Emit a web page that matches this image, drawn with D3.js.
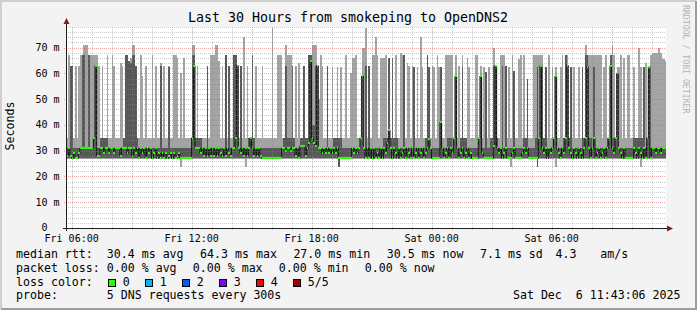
<!DOCTYPE html>
<html>
<head>
<meta charset="utf-8">
<script src="https://cdn.jsdelivr.net/npm/d3@7"></script>
<style>
  body { margin: 0; background: #f3f3f3; }
  svg text { font-family: "DejaVu Sans Mono", monospace; white-space: pre; }
</style>
</head>
<body>
<svg id="chart" width="697" height="310"></svg>
<script>
const width = 697;
const height = 310;

// 5 DNS requests every 300s, sorted per step: min, 2nd, median, 4th, max (ms)
const medRtt = [
  28,31,28,27,29,27,27,29,31,31,31,31,31,31,31,31,35,63,28,28,
  31,31,29,31,31,29,31,31,29,31,31,31,28,31,31,31,29,31,31,28,
  31,29,31,27,31,29,31,27,31,29,31,27,29,31,27,29,27,29,27,29,
  27,28,29,27,29,27,28,29,27,27,27,27,27,27,27,35,63,31,31,31,
  29,31,28,31,28,31,28,31,28,31,28,31,29,28,31,28,31,29,28,31,
  31,35,63,31,29,31,28,31,28,31,35,31,28,31,28,31,28,27,27,27,
  27,27,27,27,27,27,27,27,27,31,31,30,31,31,30,31,31,28,31,27,
  32,32,32,28,31,33,64.8,35,33,32,63,31,31,29,31,29,31,29,31,29,
  31,29,31,27,27,27,27,27,27,27,27,31,29,31,29,31,35,59,31,27,
  31,27,31,27,31,27,29,27,31,27,31,29,33,38,31,27,31,29,27,31,
  27,29,31,27,31,29,27,31,27,29,31,27,29,31,27,29,31,34.5,31,27,
  27,27,27,27,41,31,27,29,31,27,31,29,35,59,31,27,29,31,27,29,
  31,27,29,27,27,27,27,35,59,29,27,27,27,27,27,27,32,63,31,29,
  31,27,29,31,27,27,27,29,31,27,27,27,27,29,31,29,31,27,27,27,
  27,27,27,35,63,31,29,31,27,31,29,31,35,59,31,29,27,31,29,35,
  63,31,29,27,31,29,27,31,29,27,31,35,62.6,31,27,31,35,27,29,31,
  27,29,31,27,31,35,63,31,29,35,60,31,29,27,31,27,27,27,27,27,
  31,29,27,31,29,27,31,27,35,62.6,27,31,31,29,31,31,29,31,31,31
];
const maxRtt = [
  35,67,63,63,35,63,35,63,67,67,71,71,71,67,67,67,67,67,67,63,
  35,63,35,35,67,35,35,67,63,35,35,35,64,63,35,67,67,65,66,71,
  71,63,35,35,67,59,35,63,35,35,35,67,35,63,35,35,64,35,63,35,
  35,63,35,35,67,67,66,35,60,35,66,35,35,35,35,71,71,35,63,35,
  35,35,35,35,63,35,67,67,67,71,71,65,35,63,35,67,35,63,35,35,
  67,67,63,35,63,35,74,35,63,35,35,67,35,63,35,35,35,63,35,35,
  35,35,35,77.6,35,35,67,67,67,35,35,71,67,67,67,63,35,63,35,64,
  35,35,63,35,35,67,67,71,71,71,63,50,67,63,35,35,63,35,35,62.6,
  35,35,62.6,35,62.6,35,35,67,35,35,60,66,66,67,35,35,35,70,70,77.6,
  35,63,35,67,67,74,67,35,66,66,66,67,35,66,35,66,35,67,35,35,
  68,67,67,35,64,63,35,63,62.6,35,62.6,35,74,62.6,35,35,67,62.6,35,63,
  62.6,35,67,62.6,62.6,35,35,67,67,67,67,67,35,67,35,63,35,67,35,35,
  66,62.6,35,35,35,67,67,35,63,35,62.6,60.7,35,62.6,35,35,70,63,35,35,
  67,67,67,63,35,62.6,35,67,61,35,35,65.5,67,35,67,35,58,35,35,35,
  67,67,67,67,67,67,35,62.6,35,67,35,62.6,35,62.6,35,35,62.6,67,35,67,
  67,35,62.6,35,62.6,35,35,62.6,35,62.6,35,71,67,67,67,67,67,67,67,67,
  67,35,62.6,67,35,35,67,71,67,35,62.6,62.6,67,35,66,35,67,67,35,35,
  62.6,35,35,70,62.6,35,62.6,64,35,63,67,68,68,68,68,70,68,66,65.5,65
];
const p4Rtt = [
  31,31,63,63,31,31,31,31,31,67,67,31,31,67,31,31,35,63,31,31,
  35,35,35,35,35,31,31,31,31,31,31,31,31,31,35,67,67,65,64,67,
  67,63,35,31,31,31,31,31,31,31,31,31,31,31,31,31,63,31,31,31,
  31,62.6,31,31,31,31,31,31,31,31,31,31,31,31,31,67,67,35,35,35,
  35,31,31,31,63,31,31,31,31,31,31,31,31,31,31,67,31,63,31,31,
  67,67,63,31,63,31,31,31,31,35,35,67,35,31,31,31,31,31,31,31,
  31,31,31,31,31,31,31,31,31,31,35,63,35,35,35,63,35,31,31,31,
  35,35,63,35,35,67,67,40,40,63,63,31,31,31,31,31,63,31,31,31,
  35,35,35,35,35,31,31,31,31,31,31,31,31,31,31,31,35,59,31,63,
  31,63,31,31,31,31,31,31,31,31,35,35,35,66,35,66,35,35,35,31,
  31,31,67,31,31,31,31,31,62.6,31,31,31,31,31,31,35,67,62.6,31,31,
  31,31,31,31,62.6,31,31,31,35,35,35,31,35,59,31,31,35,62.6,35,35,
  31,31,31,31,31,31,31,35,59,31,31,60.7,31,31,35,35,63,63,35,31,
  31,63,31,63,31,31,31,31,61,31,31,31,31,31,35,35,58,31,31,31,
  31,35,62.6,35,63,62.6,35,62.6,31,31,31,31,35,59,31,31,31,31,35,67,
  63,35,62.6,31,31,31,31,31,31,62.6,35,67,67,35,35,31,62.6,31,31,31,
  31,31,31,31,35,35,67,35,35,35,60,31,31,31,31,31,31,31,31,31,
  35,35,35,35,35,35,62.6,31,35,62.6,31,31,31,31,31,31,31,31,31,31
];
const p2Rtt = [
  27,27,27,27,27,27,27,27,27,27,27,27,27,27,27,27,27,27,27,27,
  27,27,27,27,27,27,27,27,27,27,27,27,27,27,27,27,27,27,27,27,
  27,27,27,27,27,27,27,27,27,27,27,27,27,27,27,27,27,27,27,27,
  27,27,27,27,27,27,27,27,27,27,27,27,27,27,27,27,27,27,27,27,
  27,27,27,27,27,27,27,27,27,27,27,27,27,27,27,27,27,27,27,27,
  27,27,27,27,27,27,27,27,27,27,27,27,27,27,27,27,27,27,27,27,
  27,27,27,27,27,27,27,27,27,27,27,27,27,27,27,27,27,27,27,27,
  27,27,27,27,27,27,27,27,27,27,27,27,27,27,27,27,27,27,27,27,
  27,27,27,23.6,27,27,27,27,27,27,27,27,27,27,27,27,27,27,27,27,
  27,27,27,27,27,27,27,27,27,27,27,27,27,27,27,27,27,27,27,27,
  27,27,27,27,27,27,27,27,27,27,27,27,27,27,27,27,27,27,27,27,
  27,27,27,27,27,27,27,27,27,27,27,27,27,27,27,27,27,27,27,27,
  27,27,27,27,27,27,27,27,27,27,27,27,27,27,27,27,27,27,27,27,
  27,27,27,27,27,27,27,27,27,27,27,27,27,27,27,27,27,27,27,27,
  27,27,23.6,27,27,27,27,27,27,27,27,27,27,27,27,27,27,27,27,27,
  27,27,27,27,27,27,27,27,27,27,27,27,27,27,27,27,27,27,27,27,
  27,27,27,27,27,27,27,27,27,27,27,27,27,27,27,27,27,27,27,27,
  27,27,27,27,27,27,27,27,27,27,27,27,27,27,27,27,27,27,27,27
];
const minRtt = [
  26.7,26.7,26.7,26.7,26.7,26.7,26.7,26.7,26.7,26.7,26.7,26.7,26.7,26.7,26.7,26.7,26.7,26.7,26.7,26.7,
  26.7,26.7,26.7,26.7,26.7,26.7,26.7,26.7,26.7,26.7,26.7,26.7,26.7,26.7,26.7,26.7,26.7,26.7,26.7,26.7,
  26.7,26.7,26.7,26.7,26.7,26.7,26.7,26.7,26.7,26.7,26.7,26.7,26.7,26.7,26.7,26.7,26.7,26.7,26.7,26.7,
  26.7,26.7,26.7,26.7,26.7,26.7,26.7,26.7,23.5,26.7,26.7,26.7,26.7,26.7,26.7,26.7,26.7,26.7,26.7,26.7,
  26.7,26.7,26.7,26.7,26.7,26.7,26.7,26.7,26.7,26.7,26.7,26.7,26.7,26.7,26.7,26.7,26.7,26.7,26.7,26.7,
  26.7,26.7,26.7,26.7,26.7,26.7,26.7,23.5,26.7,26.7,26.7,26.7,26.7,26.7,26.7,26.7,26.7,26.7,26.7,26.7,
  26.7,26.7,26.7,26.7,26.7,26.7,26.7,26.7,26.7,26.7,26.7,26.7,26.7,26.7,26.7,26.7,26.7,26.7,26.7,26.7,
  26.7,26.7,26.7,26.7,26.7,26.7,26.7,26.7,26.7,26.7,26.7,26.7,26.7,26.7,26.7,26.7,26.7,26.7,26.7,26.7,
  26.7,26.7,26.7,23.5,26.7,26.7,26.7,26.7,26.7,26.7,26.7,26.7,26.7,26.7,26.7,26.7,26.7,26.7,26.7,26.7,
  26.7,26.7,26.7,26.7,26.7,26.7,26.7,26.7,26.7,26.7,26.7,26.7,26.7,26.7,26.7,26.7,26.7,26.7,26.7,26.7,
  26.7,26.7,26.7,26.7,26.7,26.7,26.7,26.7,26.7,26.7,26.7,26.7,26.7,26.7,26.7,26.7,26.7,26.7,26.7,26.7,
  26.7,26.7,26.7,26.7,26.7,26.7,26.7,26.7,26.7,26.7,26.7,26.7,26.7,26.7,26.7,26.7,26.7,26.7,26.7,26.7,
  26.7,26.7,26.7,26.7,26.7,26.7,26.7,26.7,26.7,26.7,26.7,26.7,26.7,26.7,26.7,26.7,26.7,26.7,26.7,26.7,
  26.7,26.7,26.7,26.7,26.7,26.7,23.5,26.7,26.7,26.7,26.7,26.7,26.7,26.7,26.7,26.7,26.7,26.7,26.7,26.7,
  26.7,26.7,23.5,26.7,26.7,26.7,26.7,26.7,26.7,26.7,26.7,26.7,26.7,23.5,26.7,26.7,26.7,26.7,26.7,26.7,
  26.7,26.7,26.7,26.7,26.7,26.7,26.7,26.7,26.7,26.7,26.7,26.7,26.7,26.7,26.7,26.7,26.7,26.7,26.7,26.7,
  26.7,26.7,26.7,26.7,26.7,26.7,26.7,26.7,26.7,26.7,26.7,26.7,26.7,26.7,26.7,26.7,26.7,26.7,26.7,26.7,
  26.7,26.7,26.7,26.7,23.5,26.7,26.7,26.7,26.7,26.7,26.7,26.7,26.7,26.7,26.7,26.7,26.7,26.7,26.7,26.7
];

const yTicks = [0, 10, 20, 30, 40, 50, 60, 70];
const lossLevels = ["0", "1", "2", "3", "4", "5/5"];
const lossColors = ["#26ff00", "#00b8ff", "#0059ff", "#7e00ff", "#ff0000", "#a10000"];
const statsRtt = ["30.4 ms avg", "64.3 ms max", "27.0 ms min", "30.5 ms now", "7.1 ms sd"];
const statsLoss = ["0.00 % avg", "0.00 % max", "0.00 % min", "0.00 % now"];

const tStart = new Date(2025, 11, 5, 5, 43, 6);
const tEnd = new Date(2025, 11, 6, 11, 43, 6);
const firstSlot = new Date(2025, 11, 5, 5, 45, 0);
const slotTimes = medRtt.map((_, i) => d3.timeMinute.offset(firstSlot, 5 * i));

const pLeft = 66, pRight = 666, pTop = 27, pBottom = 228;
const x = d3.scaleTime().domain([tStart, tEnd]).range([pLeft, pRight]);
const y = d3.scaleLinear().domain([0, 78]).range([pBottom, pTop]);

const svg = d3.select('#chart');

// frame
svg.append('rect').attr('width', width).attr('height', height).attr('fill', '#f3f3f3');
svg.append('path').attr('d', `M1,${height - 1}V1H${width - 1}`).attr('fill', 'none')
  .attr('stroke', '#cfcfcf').attr('stroke-width', 2);
svg.append('path').attr('d', `M1,${height - 1}H${width - 1}V1`).attr('fill', 'none')
  .attr('stroke', '#9e9e9e').attr('stroke-width', 2);

svg.append('defs').append('clipPath').attr('id', 'plotclip')
  .append('rect').attr('x', pLeft).attr('y', pTop).attr('width', pRight - pLeft).attr('height', pBottom - pTop);
svg.append('rect').attr('x', pLeft).attr('y', pTop).attr('width', pRight - pLeft).attr('height', pBottom - pTop)
  .attr('fill', '#ffffff');

const plot = svg.append('g').attr('clip-path', 'url(#plotclip)');
const slotW = d => x(d3.timeMinute.offset(d, 5)) - x(d);

// smoke: outer pair light, inner pair dark
function smoke(lo, hi, color) {
  plot.append('g').attr('shape-rendering', 'crispEdges')
    .selectAll('rect').data(slotTimes).join('rect')
    .attr('x', d => x(d)).attr('width', slotW)
    .attr('y', (d, i) => y(hi[i]))
    .attr('height', (d, i) => y(lo[i]) - y(hi[i]))
    .attr('fill', color);
}
smoke(minRtt, maxRtt, '#a4a4a4');
smoke(p2Rtt, p4Rtt, '#585858');

// median step line
const medPts = slotTimes.map((d, i) => [x(d), y(medRtt[i])]);
medPts.push([x(d3.timeMinute.offset(slotTimes[slotTimes.length - 1], 5)), y(medRtt[medRtt.length - 1])]);
plot.append('path').attr('d', d3.line().curve(d3.curveStepAfter)(medPts))
  .attr('fill', 'none').attr('stroke', '#111').attr('stroke-width', 1);

// median loss colour ticks
plot.append('g').attr('shape-rendering', 'crispEdges')
  .selectAll('rect').data(slotTimes).join('rect')
  .attr('x', d => x(d)).attr('width', slotW)
  .attr('y', (d, i) => y(medRtt[i]) - 1).attr('height', 2)
  .attr('fill', lossColors[0]);

// grid on top of data
const grid = svg.append('g').attr('shape-rendering', 'crispEdges');
const minorY = d3.range(2, 79, 2).filter(v => v % 10 !== 0);
grid.selectAll('line.my').data(minorY).join('line')
  .attr('x1', pLeft).attr('x2', pRight).attr('y1', d => Math.round(y(d)) + 0.5).attr('y2', d => Math.round(y(d)) + 0.5)
  .attr('stroke', 'rgba(143,143,143,0.45)').attr('stroke-dasharray', '1,1');
const hours = d3.timeHour.range(tStart, tEnd);
grid.selectAll('line.mx').data(hours.filter(d => d.getHours() % 3 !== 0)).join('line')
  .attr('y1', pTop).attr('y2', pBottom + 2).attr('x1', d => Math.round(x(d)) + 0.5).attr('x2', d => Math.round(x(d)) + 0.5)
  .attr('stroke', 'rgba(143,143,143,0.45)').attr('stroke-dasharray', '1,1');
grid.selectAll('line.My').data(yTicks.slice(1)).join('line')
  .attr('x1', pLeft - 2).attr('x2', pRight).attr('y1', d => Math.round(y(d)) + 0.5).attr('y2', d => Math.round(y(d)) + 0.5)
  .attr('stroke', 'rgba(222,80,80,0.5)').attr('stroke-dasharray', '1,1');
grid.selectAll('line.Mx').data(hours.filter(d => d.getHours() % 3 === 0)).join('line')
  .attr('y1', pTop).attr('y2', pBottom + 2).attr('x1', d => Math.round(x(d)) + 0.5).attr('x2', d => Math.round(x(d)) + 0.5)
  .attr('stroke', 'rgba(222,80,80,0.5)').attr('stroke-dasharray', '1,1');

// axes
const axis = svg.append('g').attr('shape-rendering', 'crispEdges');
axis.append('line').attr('x1', pLeft - 3).attr('x2', pRight + 3).attr('y1', pBottom + 0.5).attr('y2', pBottom + 0.5).attr('stroke', '#1f1f1f');
axis.append('line').attr('x1', pLeft + 0.5).attr('x2', pLeft + 0.5).attr('y1', pBottom + 3).attr('y2', pTop - 4).attr('stroke', '#1f1f1f');
svg.append('path').attr('d', `M${pRight + 1},${pBottom - 2.5}L${pRight + 7},${pBottom + 0.5}L${pRight + 1},${pBottom + 3.5}Z`).attr('fill', '#7f1f1f');
svg.append('path').attr('d', `M${pLeft - 2.5},${pTop - 3}L${pLeft + 0.5},${pTop - 9}L${pLeft + 3.5},${pTop - 3}Z`).attr('fill', '#7f1f1f');

// labels
svg.append('text').attr('x', 348).attr('y', 22).attr('text-anchor', 'middle')
  .attr('font-size', 13.3).attr('fill', '#000').text('Last 30 Hours from smokeping to OpenDNS2');

// the unit column stays empty for 0, so its digit lines up with the others
svg.append('g').selectAll('text').data(yTicks).join('text')
  .attr('x', d => d === 0 ? 47.5 : 59.5).attr('y', d => y(d) + 3.4).attr('text-anchor', 'end').attr('font-size', 10)
  .text(d => d === 0 ? '0' : d + ' m');

svg.append('g').selectAll('text').data(hours.filter(d => d.getHours() % 6 === 0)).join('text')
  .attr('x', d => x(d)).attr('y', 241.5).attr('text-anchor', 'middle').attr('font-size', 10)
  .text(d3.timeFormat('%a %H:%M'));

svg.append('text').attr('transform', 'translate(14,126) rotate(-90)').attr('text-anchor', 'middle')
  .attr('font-size', 11.6).text('Seconds');
svg.append('text').attr('transform', 'translate(683,5) rotate(90)').attr('font-size', 8.2)
  .attr('fill', '#b4b4b4').text('RRDTOOL / TOBI OETIKER');

// legend
const fs = 11.6;
const leg = svg.append('g').attr('font-size', fs);
leg.append('text').attr('x', 16).attr('y', 258).text('median rtt:');
leg.selectAll('text.r').data(statsRtt).join('text').attr('x', (d, i) => 106.8 + i * 93.3).attr('y', 258).text(d => d);
leg.append('text').attr('x', 555.5).attr('y', 258).text('4.3');
leg.append('text').attr('x', 600.2).attr('y', 258).text('am/s');
leg.append('text').attr('x', 16).attr('y', 271.7).text('packet loss:');
leg.selectAll('text.l').data(statsLoss).join('text').attr('x', (d, i) => 106.8 + i * 86).attr('y', 271.7).text(d => d);
leg.append('text').attr('x', 16).attr('y', 285.5).text('loss color:');
leg.selectAll('rect').data(lossColors).join('rect')
  .attr('x', (d, i) => 108.5 + i * 37).attr('y', 279.5).attr('width', 7).attr('height', 7)
  .attr('fill', d => d).attr('stroke', '#000').attr('stroke-width', 1);
leg.selectAll('text.c').data(lossLevels).join('text').attr('x', (d, i) => 122.8 + i * 37).attr('y', 285.5).text(d => d);
leg.append('text').attr('x', 16).attr('y', 299.3).text('probe:');
leg.append('text').attr('x', 106.8).attr('y', 299.3).text('5 DNS requests every 300s');
leg.append('text').attr('x', 680.5).attr('y', 299.3).attr('text-anchor', 'end').text('Sat Dec  6 11:43:06 2025');
</script>
</body>
</html>
